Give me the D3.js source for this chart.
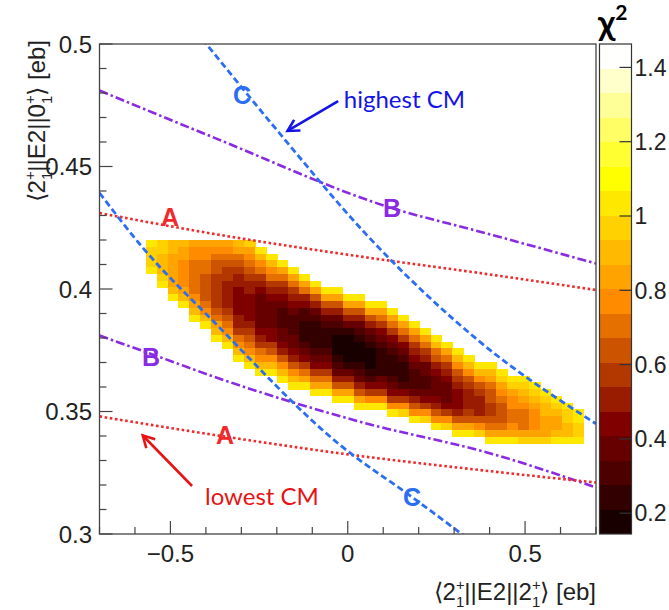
<!DOCTYPE html>
<html><head><meta charset="utf-8">
<script src="https://cdn.jsdelivr.net/npm/d3@7/dist/d3.min.js"></script>
<style>html,body{margin:0;padding:0;background:#fff}svg{display:block}</style>
</head><body>
<svg id="chart" width="669" height="610"></svg>
<script>
// ---------------- data ----------------
const xDomain = [-0.7, 0.7];
const yDomain = [0.3, 0.5];
const xMajorTicks = [-0.5, 0, 0.5];
const xTickLabels = ["\u22120.5", "0", "0.5"];
const xMinorTicks = [-0.7, -0.6, -0.4, -0.3, -0.2, -0.1, 0.1, 0.2, 0.3, 0.4, 0.6, 0.7];
const yMajorTicks = [0.3, 0.35, 0.4, 0.45, 0.5];
const yTickLabels = ["0.3", "0.35", "0.4", "0.45", "0.5"];
const yMinorTicks = [0.31,0.32,0.33,0.34,0.36,0.37,0.38,0.39,0.41,0.42,0.43,0.44,0.46,0.47,0.48,0.49];
const zRange = [0.144, 1.463];
const zTicks = [0.2, 0.4, 0.6, 0.8, 1.0, 1.2, 1.4];
const zTickLabels = ["0.2", "0.4", "0.6", "0.8", "1", "1.2", "1.4"];
const nLevels = 20;

// chi2 map: 40 columns x 30 rows; each column string lists colour-band indices
// (0-9, A=10 ... J=19) from its first filled row (colTop) downwards
const gridX0 = -0.570, gridDX = 0.0309;
const gridYTop = 0.420, gridDY = 0.002767;
const colTop = [0,0,0,0,0,0,0,0,0,0,1,2,3,4,5,6,7,7,8,8,9,9,10,11,12,13,14,15,16,17,18,18,19,20,20,21,22,23,24,25];
const colBands = [
 "DCCCD","CCBBBCD","BBAAAAABD","BAA9999ABD","A99888889ABD","A9988777789BD",
 "A98776666678ABD","A9876655556789BD","BA87655444455689BD","CA987655444456789BD",
 "DB986543333345689BD","DB98654333344679BD","DA86543222334579BD","DA86543222334579BD",
 "DA8542211123468AD","DA7532111123468AD","DA753211123468AD","DA7532100012357AD",
 "DA753100001357AD","DA7532100012357AD","DA7532100012469D","DA8643211113469D",
 "DA8643211123469D","DA864321112469C","DA865432223579D","DA86533223469C",
 "DB87543334579D","DA8654333469C","DB976544457AD","DB97655567AD","DB97655579C",
 "DBA8776678AD","DCA987778AD","DCA99889AD","DCBA9888AC","DCBA999AC","DCBBAAAC",
 "DCBAABD","DCCBBD","DDCCD"
];

// constraint curves (x, y)
const curveA1 = [[-0.7,0.431],[-0.374,0.4224],[0.043,0.4131],[0.373,0.4065],[0.7,0.3996]];
const curveA2 = [[-0.7,0.348],[-0.375,0.3404],[0.0,0.3325],[0.373,0.3261],[0.7,0.321]];
const curveB1 = [[-0.7,0.481],[-0.374,0.4616],[0.125,0.433],[0.373,0.4234],[0.7,0.4104]];
const curveB2 = [[-0.7,0.381],[-0.53,0.3722],[-0.375,0.3641],[0.048,0.3453],[0.4,0.333],[0.7,0.3190]];
const curveC1 = [[-0.41,0.502],[-0.2,0.4649],[0.054,0.422],[0.373,0.3784],[0.7,0.3450]];
const curveC2 = [[-0.7,0.4392],[-0.577,0.4167],[-0.374,0.3861],[-0.0215,0.3363],[0.181,0.3151],[0.34,0.298]];

const curveLabels = [
 {t:"A", x:-0.501, y:0.4295, c:"#f02a2a"},
 {t:"A", x:-0.346, y:0.3405, c:"#f02a2a"},
 {t:"B", x:0.125, y:0.4332, c:"#8a2be2"},
 {t:"B", x:-0.555, y:0.3722, c:"#8a2be2"},
 {t:"C", x:-0.298, y:0.4792, c:"#2b6ef2"},
 {t:"C", x:0.181, y:0.3151, c:"#2b6ef2"}
];
const notes = [
 {t:"highest CM", x:-0.011, y:0.4739, c:"#1414e6", from:[-0.027,0.4767], to:[-0.170,0.4645]},
 {t:"lowest CM", x:-0.4025, y:0.3118, c:"#e61414", from:[-0.439,0.3196], to:[-0.578,0.3402]}
];

// ---------------- drawing ----------------
const svg = d3.select("#chart");
const P = {left:99.5, right:596, top:44, bottom:534};
const CB = {left:599.5, right:631.5};
const xs = d3.scaleLinear().domain(xDomain).range([P.left, P.right]);
const ys = d3.scaleLinear().domain(yDomain).range([P.bottom, P.top]);
const zs = d3.scaleLinear().domain(zRange).range([P.bottom, P.top]);

// ROOT dark body radiator palette
const palInterp = d3.scaleLinear().domain([0,0.25,0.5,0.75,1])
  .range(["#000000","#800000","#ff8c00","#ffff00","#ffffff"]).interpolate(d3.interpolateRgb);
const levelColors = d3.range(nLevels).map(i => palInterp((i+0.99)/nLevels));
const zStep = (zRange[1]-zRange[0])/nLevels;
const colorOf = d3.scaleQuantize().domain(zRange).range(levelColors);

svg.append("rect").attr("width",669).attr("height",610).attr("fill","#fff");

// cells
const cells = [];
colBands.forEach((s, j) => {
  for (let k = 0; k < s.length; k++) {
    const band = parseInt(s[k], 20);
    cells.push({col:j, row:colTop[j]+k, z: zRange[0] + (band+0.5)*zStep});
  }
});
svg.append("g").selectAll("rect").data(cells).join("rect")
  .attr("x", d => xs(gridX0 + d.col*gridDX))
  .attr("y", d => ys(gridYTop - d.row*gridDY))
  .attr("width", d => xs(gridX0 + (d.col+1)*gridDX) - xs(gridX0 + d.col*gridDX) + 0.4)
  .attr("height", d => ys(gridYTop - (d.row+1)*gridDY) - ys(gridYTop - d.row*gridDY) + 0.4)
  .attr("fill", d => colorOf(d.z))
  .attr("shape-rendering","crispEdges");

// curves
svg.append("clipPath").attr("id","clip").append("rect")
  .attr("x",P.left).attr("y",P.top).attr("width",P.right-P.left).attr("height",P.bottom-P.top);
const line = d3.line().x(d=>xs(d[0])).y(d=>ys(d[1])).curve(d3.curveMonotoneX);
const gc = svg.append("g").attr("clip-path","url(#clip)").attr("fill","none");
[[curveB1,"#8a2be2","9,3,2.5,3",2.6],[curveB2,"#8a2be2","9,3,2.5,3",2.6],
 [curveA1,"#f02a2a","2.6,2.6",2.6],[curveA2,"#f02a2a","2.6,2.6",2.6],
 [curveC1,"#2b6ef2","6.5,3.5",2.8],[curveC2,"#2b6ef2","6.5,3.5",2.8]]
 .forEach(([pts,c,dash,w]) => gc.append("path").attr("d", line(pts))
   .attr("stroke",c).attr("stroke-dasharray",dash).attr("stroke-width",w));

// curve labels
svg.append("g").selectAll("text").data(curveLabels).join("text")
  .attr("x", d=>xs(d.x)).attr("y", d=>ys(d.y)).attr("dy","0.36em")
  .attr("text-anchor","middle").attr("fill", d=>d.c)
  .attr("font-family","'Liberation Sans', Arial, sans-serif").attr("font-weight","bold")
  .attr("font-size",25).text(d=>d.t);

// frame
svg.append("rect").attr("x",P.left).attr("y",P.top).attr("width",P.right-P.left).attr("height",P.bottom-P.top)
  .attr("fill","none").attr("stroke","#444").attr("stroke-width",1.3);

const axisCol = "#444";
const ga = svg.append("g").attr("stroke",axisCol).attr("stroke-width",1.2);
xMajorTicks.forEach(v => ga.append("line").attr("x1",xs(v)).attr("x2",xs(v)).attr("y1",P.bottom).attr("y2",P.bottom-13));
xMinorTicks.forEach(v => ga.append("line").attr("x1",xs(v)).attr("x2",xs(v)).attr("y1",P.bottom).attr("y2",P.bottom-7));
yMajorTicks.forEach(v => ga.append("line").attr("y1",ys(v)).attr("y2",ys(v)).attr("x1",P.left).attr("x2",P.left+13));
yMinorTicks.forEach(v => ga.append("line").attr("y1",ys(v)).attr("y2",ys(v)).attr("x1",P.left).attr("x2",P.left+7));

const tickFont = "'Liberation Sans', Arial, Helvetica, sans-serif";
svg.append("g").selectAll("text").data(xMajorTicks).join("text")
  .attr("x", d=>xs(d)).attr("y", 562).attr("text-anchor","middle")
  .attr("font-family",tickFont).attr("font-size",24).attr("fill","#222")
  .text((d,i)=>xTickLabels[i]);
svg.append("g").selectAll("text").data(yMajorTicks).join("text")
  .attr("x", 92).attr("y", d=>ys(d)).attr("dy","0.36em").attr("text-anchor","end")
  .attr("font-family",tickFont).attr("font-size",24).attr("fill","#222")
  .text((d,i)=>yTickLabels[i]);

// axis titles  <2+1||E2||X+1> [eb]
function braket(t, fs, mid) {
  const s = fs*0.62;
  t.append("tspan").text("\u27E82");
  t.append("tspan").attr("font-size",s).attr("dy",-fs*0.4).text("+");
  t.append("tspan").attr("font-size",s).attr("dx",-s*0.58).attr("dy",fs*0.4+fs*0.3).text("1");
  t.append("tspan").attr("dy",-fs*0.3).text("||E2||"+mid);
  t.append("tspan").attr("font-size",s).attr("dy",-fs*0.4).text("+");
  t.append("tspan").attr("font-size",s).attr("dx",-s*0.58).attr("dy",fs*0.4+fs*0.3).text("1");
  t.append("tspan").attr("dy",-fs*0.3).text("\u27E9 [eb]");
}
const xt = svg.append("text").attr("x",P.right).attr("y",600).attr("text-anchor","end")
  .attr("font-family",tickFont).attr("font-size",24).attr("fill","#222");
braket(xt, 24, "2");
const yt = svg.append("text").attr("transform","translate(45,40) rotate(-90)").attr("text-anchor","end")
  .attr("font-family",tickFont).attr("font-size",24).attr("fill","#222");
braket(yt, 24, "0");

// colour bar
const bands = d3.range(nLevels).map(i => ({z0: zRange[0]+i*zStep, z1: zRange[0]+(i+1)*zStep, c: levelColors[i]}));
svg.append("g").selectAll("rect").data(bands).join("rect")
  .attr("x",CB.left).attr("width",CB.right-CB.left)
  .attr("y",d=>zs(d.z1)).attr("height",d=>zs(d.z0)-zs(d.z1)+0.3)
  .attr("fill",d=>d.c).attr("shape-rendering","crispEdges");
svg.append("rect").attr("x",CB.left).attr("y",P.top).attr("width",CB.right-CB.left).attr("height",P.bottom-P.top)
  .attr("fill","none").attr("stroke","#333").attr("stroke-width",1.2);
svg.append("g").selectAll("line").data(zTicks).join("line")
  .attr("x1",CB.right).attr("x2",CB.right-12).attr("y1",d=>zs(d)).attr("y2",d=>zs(d))
  .attr("stroke","#333").attr("stroke-width",1.2);
svg.append("g").selectAll("text").data(zTicks).join("text")
  .attr("x",CB.right+3).attr("y",d=>zs(d)).attr("dy","0.36em")
  .attr("font-family",tickFont).attr("font-size",23).attr("fill","#222")
  .text((d,i)=>zTickLabels[i]);
const chi = svg.append("text").attr("x",598).attr("y",35)
  .attr("font-family","Lato, 'Open Sans', 'DejaVu Sans', sans-serif").attr("font-weight","bold")
  .attr("font-size",35).attr("fill","#000");
chi.append("tspan").text("\u03C7");
chi.append("tspan").attr("font-size",21).attr("dy",-15).text("2");

// annotations
const ann = svg.append("g");
notes.forEach(n => {
  const x1 = xs(n.from[0]), y1 = ys(n.from[1]), x2 = xs(n.to[0]), y2 = ys(n.to[1]);
  const a = Math.atan2(y2-y1, x2-x1), L = 13, h = 0.5;
  ann.append("line").attr("x1",x1).attr("y1",y1).attr("x2",x2).attr("y2",y2)
    .attr("stroke",n.c).attr("stroke-width",2.6);
  ann.append("path").attr("d",
      `M${x2-L*Math.cos(a-h)},${y2-L*Math.sin(a-h)}L${x2},${y2}L${x2-L*Math.cos(a+h)},${y2-L*Math.sin(a+h)}`)
    .attr("fill","none").attr("stroke",n.c).attr("stroke-width",2.6).attr("stroke-linejoin","miter");
  ann.append("text").attr("x",xs(n.x)).attr("y",ys(n.y))
    .attr("font-family","Lato, 'Open Sans', sans-serif").attr("font-size",24).attr("fill",n.c).text(n.t);
});
</script>
</body></html>
